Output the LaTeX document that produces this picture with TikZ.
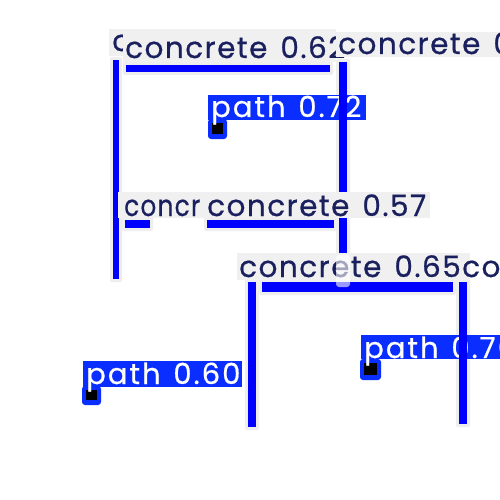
\documentclass[tikz,border=0pt]{standalone}
\usepackage{graphicx}
\usepackage{fontspec}
\setmainfont{Poppins}[LetterSpace=5,FakeBold=0.6]
\newfontfamily\pfam[LetterSpace=7,FakeBold=0.6]{Poppins}
\definecolor{bblue}{HTML}{0000FF}
\definecolor{lblue}{HTML}{0A2EFF}
\definecolor{halo}{HTML}{EEEEEE}
\definecolor{lgray}{HTML}{F0F0F0}
\definecolor{navy}{HTML}{1A1F5E}
\tikzset{
  cfont/.style={font=\fontsize{29.5}{29.5}\selectfont},
  pfont/.style={font=\pfam\fontsize{29}{29}\selectfont},
  ctext/.style={cfont,text=navy,anchor=base west,inner sep=0pt},
  ptext/.style={pfont,text=white,anchor=base west,inner sep=0pt},
  graybg/.style={fill=lgray},
  bluebg/.style={fill=lblue},
}
\newcommand\bbar[4]{%
  \fill[halo,rounded corners=2pt] (#1-3,#2-3) rectangle (#3+3,#4+3);
  \fill[bblue] (#1,#2) rectangle (#3,#4);}
\newcommand\pmark[4]{%
  \fill[lblue,rounded corners=3pt] (#1,#2) rectangle (#3,#4);
  \fill[black] (#1+4,#2+4) rectangle (#3-4,#4-5);}
\newcommand\gap{\hspace{13pt}}
\begin{document}
\begin{tikzpicture}[x=1pt,y=-1pt]
\useasboundingbox (0,0) rectangle (500,500);
\fill[white] (0,0) rectangle (500,500);
\begin{scope}
\clip (0,0) rectangle (500,500);
% upper box
\bbar{113}{60}{119}{279}
\bbar{126}{65}{330}{72}
\bbar{339}{62}{347}{283}
% middle bars
\bbar{125}{220}{150}{228}
\bbar{207}{220}{334}{228}
% lower box
\bbar{248}{282}{256}{427}
\bbar{459}{282}{467}{424}
\bbar{262}{282}{453}{292}
% top labels
\fill[graybg] (109,29) rectangle (336,56);
\node[ctext] (cback) at (112,51) {c};
\fill[graybg] (123,33) rectangle (336,62);
\node[ctext] (c62) at (125,58) {concrete\gap 0.62};
\fill[graybg] (336,32) rectangle (500,57);
\node[ctext] (cright) at (338,54) {concrete\gap 0.62};
% path 0.72
\fill[bluebg] (208,95) rectangle (366,120);
\pmark{208}{119}{227}{139}
\node[ptext] (p72) at (211,117) {path\hspace{3pt} 0.72};
\fill[bblue] (339,95) rectangle (347,120);
% middle labels
\fill[graybg] (118,192) rectangle (210,218);
\node[ctext] (concr) at (124,216) {\scalebox{0.84}[1]{concr}};
\fill[graybg] (205,192) rectangle (430,218);
\node[ctext] (c57) at (207,216) {concrete\gap 0.57};
% lower labels
\fill[graybg] (237,253) rectangle (470,280);
\node[ctext] (c65) at (239,277) {concrete\gap 0.65};
\node[ctext] (ccon) at (462,277) {con};
\fill[white,opacity=0.6,rounded corners=3pt] (336,255) rectangle (350,287);
% path 0.60
\fill[bluebg] (83,361) rectangle (242,387);
\pmark{82}{386}{101}{405}
\node[ptext] (p60) at (86,384) {path\hspace{3pt} 0.60};
% path 0.7x
\fill[bluebg] (361,335) rectangle (500,359);
\pmark{360}{359}{381}{380}
\node[ptext] (p70) at (364,358) {path\hspace{3pt} 0.76};
\fill[bblue] (459,335) rectangle (467,359);
\end{scope}
\end{tikzpicture}
\end{document}
